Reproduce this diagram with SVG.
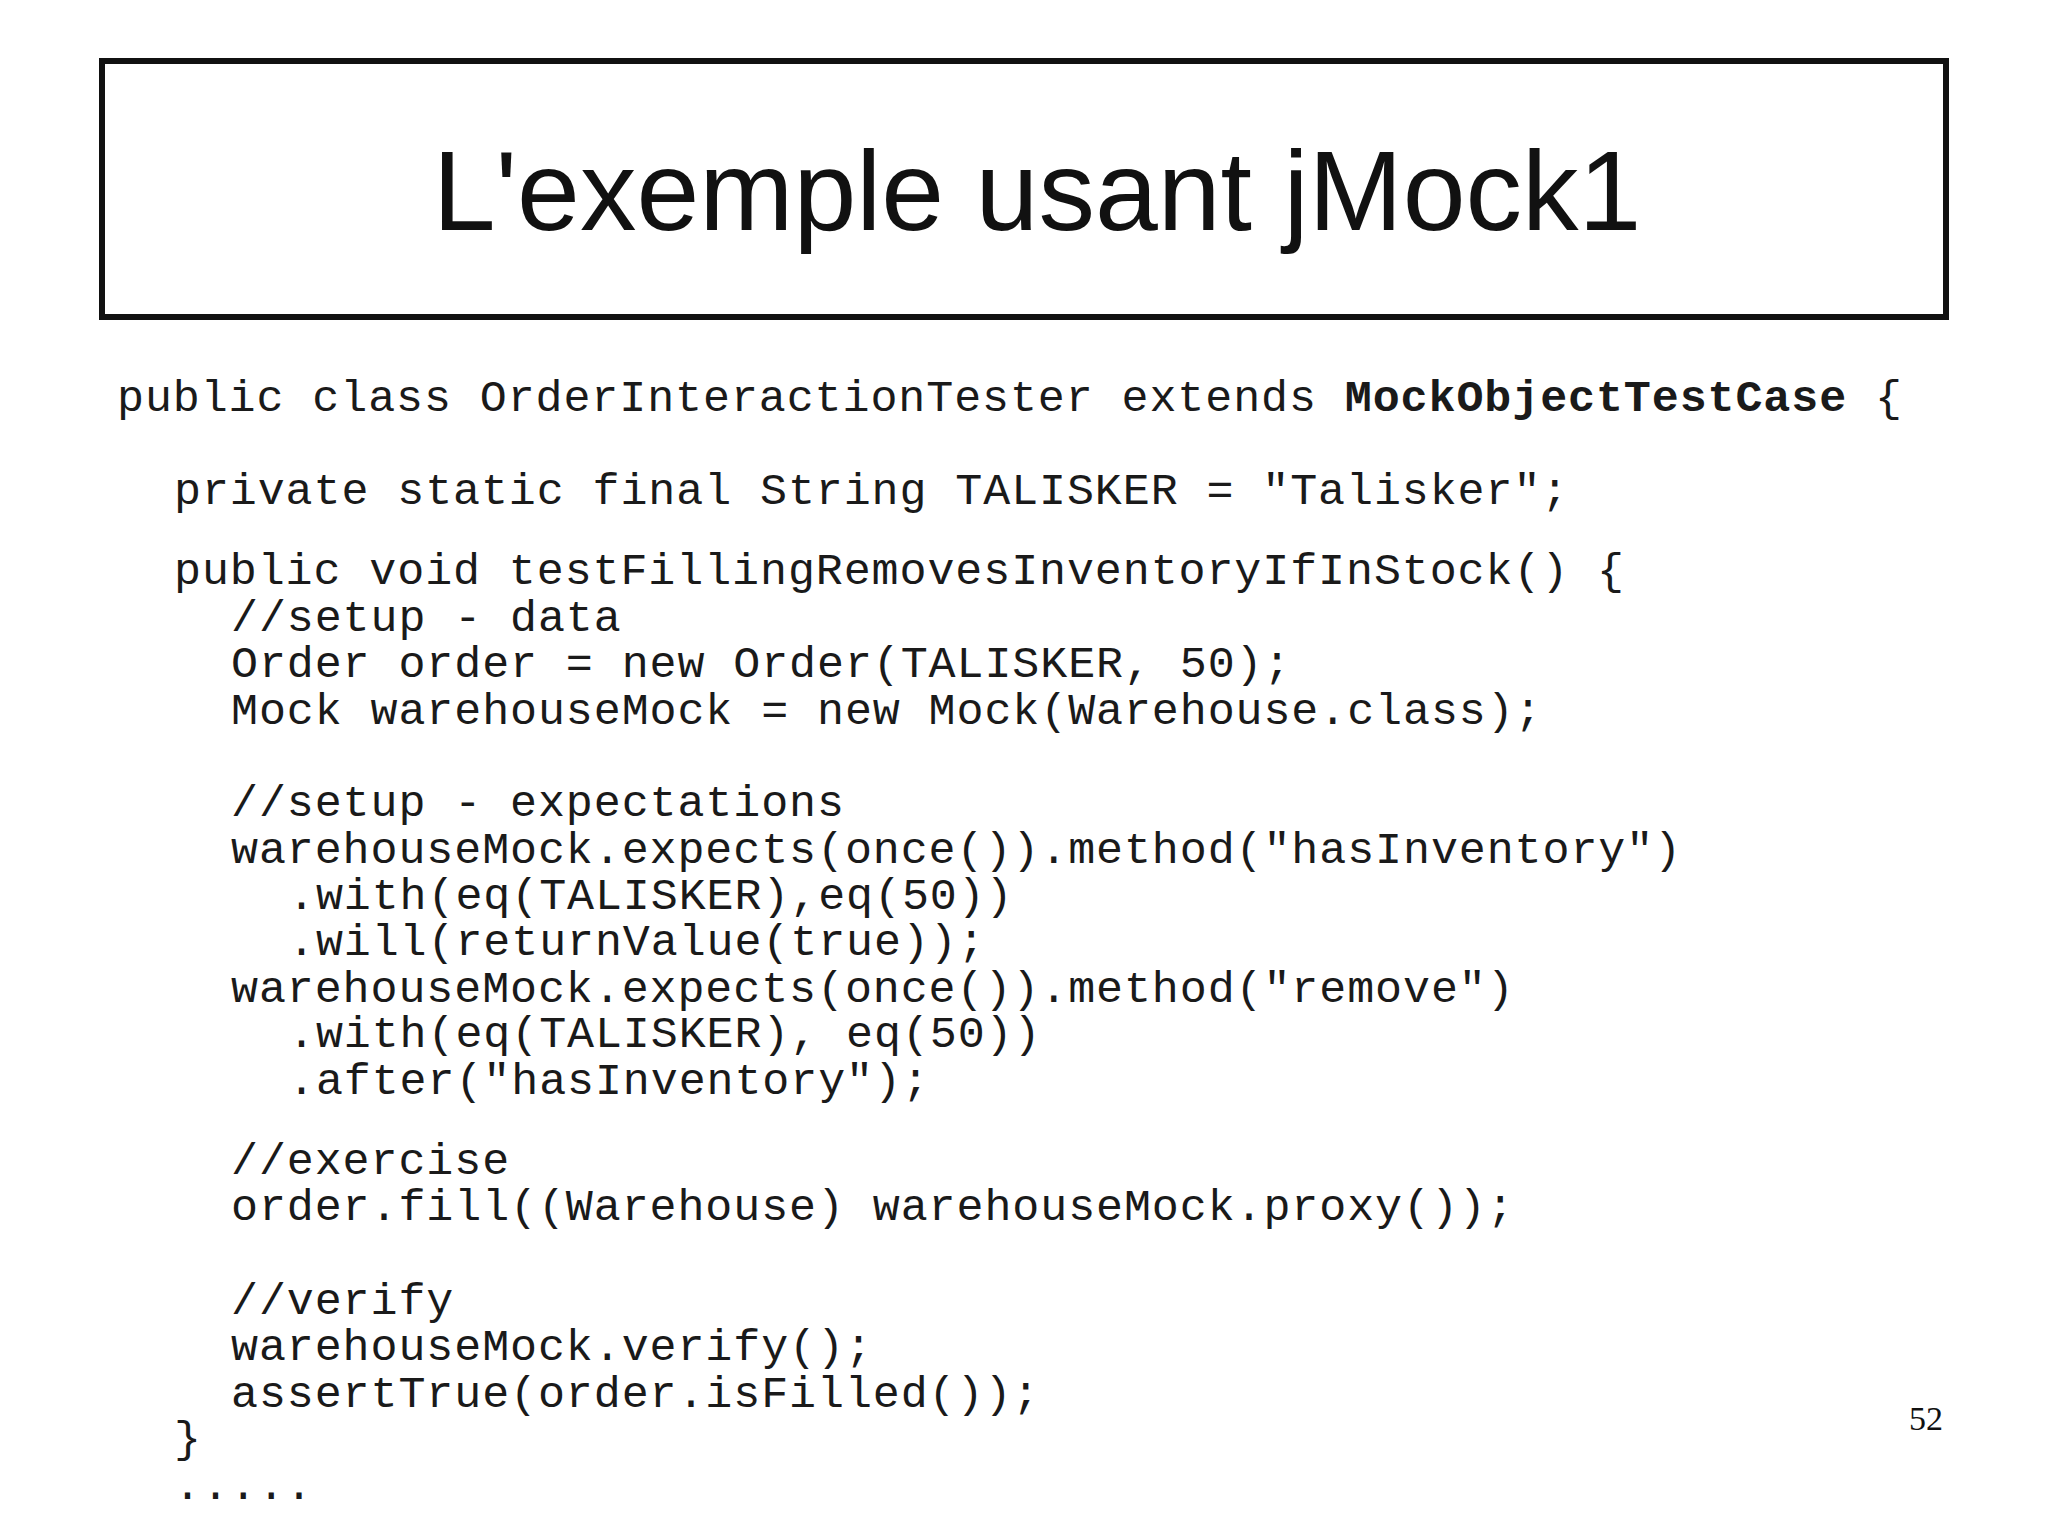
<svg xmlns="http://www.w3.org/2000/svg" width="2048" height="1535" viewBox="0 0 2048 1535">
<style>
.c{font-family:"Liberation Mono",monospace;font-size:45px;letter-spacing:0.9px;fill:#1a1a1a;white-space:pre}
.t{font-family:"Liberation Sans",Arial,sans-serif;font-size:113px;fill:#111}
.n{font-family:"Liberation Serif",serif;font-size:34px;fill:#111}
</style>
<rect width="2048" height="1535" fill="#fff"/>
<g id="title">
<rect x="102" y="61" width="1844" height="256" fill="#fff" stroke="#111" stroke-width="6"/>
<text class="t" x="1037" y="230" text-anchor="middle">L'exemple usant jMock1</text>
</g>
<g id="code">
<text class="c" x="117" y="411">public class OrderInteractionTester extends <tspan font-weight="bold">MockObjectTestCase</tspan> {</text>
<text class="c" x="174" y="504">private static final String TALISKER = "Talisker";</text>
<text class="c" x="174" y="584">public void testFillingRemovesInventoryIfInStock() {</text>
<text class="c" x="231" y="631">//setup - data</text>
<text class="c" x="231" y="677">Order order = new Order(TALISKER, 50);</text>
<text class="c" x="231" y="724">Mock warehouseMock = new Mock(Warehouse.class);</text>
<text class="c" x="231" y="816">//setup - expectations</text>
<text class="c" x="231" y="863">warehouseMock.expects(once()).method("hasInventory")</text>
<text class="c" x="288" y="909">.with(eq(TALISKER),eq(50))</text>
<text class="c" x="288" y="955">.will(returnValue(true));</text>
<text class="c" x="231" y="1002">warehouseMock.expects(once()).method("remove")</text>
<text class="c" x="288" y="1047">.with(eq(TALISKER), eq(50))</text>
<text class="c" x="288" y="1094">.after("hasInventory");</text>
<text class="c" x="231" y="1174">//exercise</text>
<text class="c" x="231" y="1220">order.fill((Warehouse) warehouseMock.proxy());</text>
<text class="c" x="231" y="1314">//verify</text>
<text class="c" x="231" y="1360">warehouseMock.verify();</text>
<text class="c" x="231" y="1407">assertTrue(order.isFilled());</text>
<text class="c" x="174" y="1452">}</text>
<text class="c" x="174" y="1499">.....</text>
</g>
<text class="n" x="1909" y="1430">52</text>
</svg>
